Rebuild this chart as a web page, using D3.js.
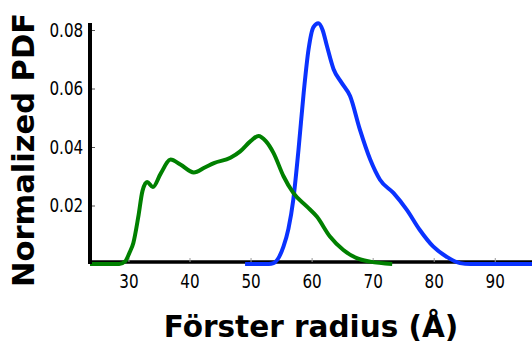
<!DOCTYPE html>
<html>
<head>
<meta charset="utf-8">
<script src="https://cdn.jsdelivr.net/npm/d3@7"></script>
<style>
  body { margin: 0; background: #fff; }
  svg { display: block; }
</style>
</head>
<body>
<div id="chart"></div>
<script>
// --- donnees ---
const greenRadius = [23.7, 28.5, 29.5, 30.2, 30.8, 31.6, 32.3, 33.05, 34.0, 35.3, 36.9, 38.5, 40.7, 42.5, 44.0, 46.7, 48.3, 50.0, 51.3, 52.5, 53.75, 55.4, 57.0, 59.2, 60.85, 63.0, 65.2, 67.4, 69.6, 73.2];
const greenPdf    = [0, 0, 0.001, 0.004, 0.0072, 0.016, 0.025, 0.028, 0.0263, 0.031, 0.0357, 0.034, 0.0313, 0.033, 0.0345, 0.0363, 0.0385, 0.042, 0.0438, 0.042, 0.038, 0.030, 0.0243, 0.0197, 0.0162, 0.0094, 0.0048, 0.002, 0.0008, 0];

const blueRadius = [49.1, 53.0, 53.75, 55.4, 56.2, 57.0, 57.85, 58.7, 59.5, 60.3, 61.1, 61.8, 62.5, 63.6, 64.9, 66.3, 67.9, 69.6, 71.2, 73.4, 75.6, 77.7, 79.9, 82.1, 84.3, 86.0, 96.1];
const bluePdf    = [0, 0, 0.0003, 0.006, 0.012, 0.022, 0.039, 0.0585, 0.0734, 0.081, 0.0823, 0.080, 0.0746, 0.0666, 0.062, 0.0574, 0.046, 0.0357, 0.0288, 0.0243, 0.0185, 0.0117, 0.006, 0.0025, 0.0003, 0, 0];

const xTicks = [30, 40, 50, 60, 70, 80, 90];
const yTicks = [0.02, 0.04, 0.06, 0.08];

const width = 532, height = 343;

const svg = d3.select("#chart").append("svg")
    .attr("width", width)
    .attr("height", height);

// echelles
const x = d3.scaleLinear().domain([23.7, 96.1]).range([90, 532]);
const y = d3.scaleLinear().domain([0, 0.08]).range([264, 30]);

// axe X (ticks vers l'interieur)
const gx = svg.append("g")
    .attr("transform", "translate(0,262)")
    .call(d3.axisBottom(x).tickValues(xTicks).tickSize(-4).tickPadding(13).tickFormat(d3.format("d")));
gx.select(".domain").remove();
gx.selectAll(".tick line").attr("stroke", "#999").attr("stroke-width", 1);
gx.selectAll(".tick text")
    .style("font-family", "DejaVu Sans")
    .style("font-size", "19px")
    .attr("fill", "#000")
    .attr("transform", "scale(0.8,1)");

// axe Y
const gy = svg.append("g")
    .attr("transform", "translate(90,0)")
    .call(d3.axisLeft(y).tickValues(yTicks).tickSize(-5).tickPadding(0).tickFormat(d3.format(".2f")));
gy.select(".domain").remove();
gy.selectAll(".tick line").attr("stroke", "#555").attr("stroke-width", 1);
gy.selectAll(".tick text")
    .style("font-family", "DejaVu Sans")
    .style("font-size", "19px")
    .attr("fill", "#000")
    .attr("x", -8.5)
    .attr("transform", "scale(0.8,1)");

// courbes
const line = d3.line()
    .x(d => x(d[0]))
    .y(d => y(d[1]))
    .curve(d3.curveMonotoneX);

svg.append("path")
    .datum(blueRadius.map((r, i) => [r, bluePdf[i]]))
    .attr("d", line)
    .attr("fill", "none")
    .attr("stroke", "#0a32ff")
    .attr("stroke-width", 4);

svg.append("path")
    .datum(greenRadius.map((r, i) => [r, greenPdf[i]]))
    .attr("d", line)
    .attr("fill", "none")
    .attr("stroke", "#008000")
    .attr("stroke-width", 4);

// lignes des axes (epaisses)
svg.append("line")
    .attr("x1", 90).attr("x2", 90)
    .attr("y1", 23).attr("y2", 264)
    .attr("stroke", "#000").attr("stroke-width", 4);
svg.append("line")
    .attr("x1", 88).attr("x2", 532)
    .attr("y1", 262).attr("y2", 262)
    .attr("stroke", "#000").attr("stroke-width", 3.5)
    .lower();

// titres des axes
svg.append("text")
    .attr("transform", "translate(34,150) rotate(-90)")
    .attr("text-anchor", "middle")
    .style("font-family", "DejaVu Sans")
    .style("font-weight", "bold")
    .style("font-size", "30.5px")
    .text("Normalized PDF");

svg.append("text")
    .attr("x", 311)
    .attr("y", 337)
    .attr("text-anchor", "middle")
    .style("font-family", "DejaVu Sans")
    .style("font-weight", "bold")
    .style("font-size", "29.5px")
    .text("Förster radius (Å)");
</script>
</body>
</html>
